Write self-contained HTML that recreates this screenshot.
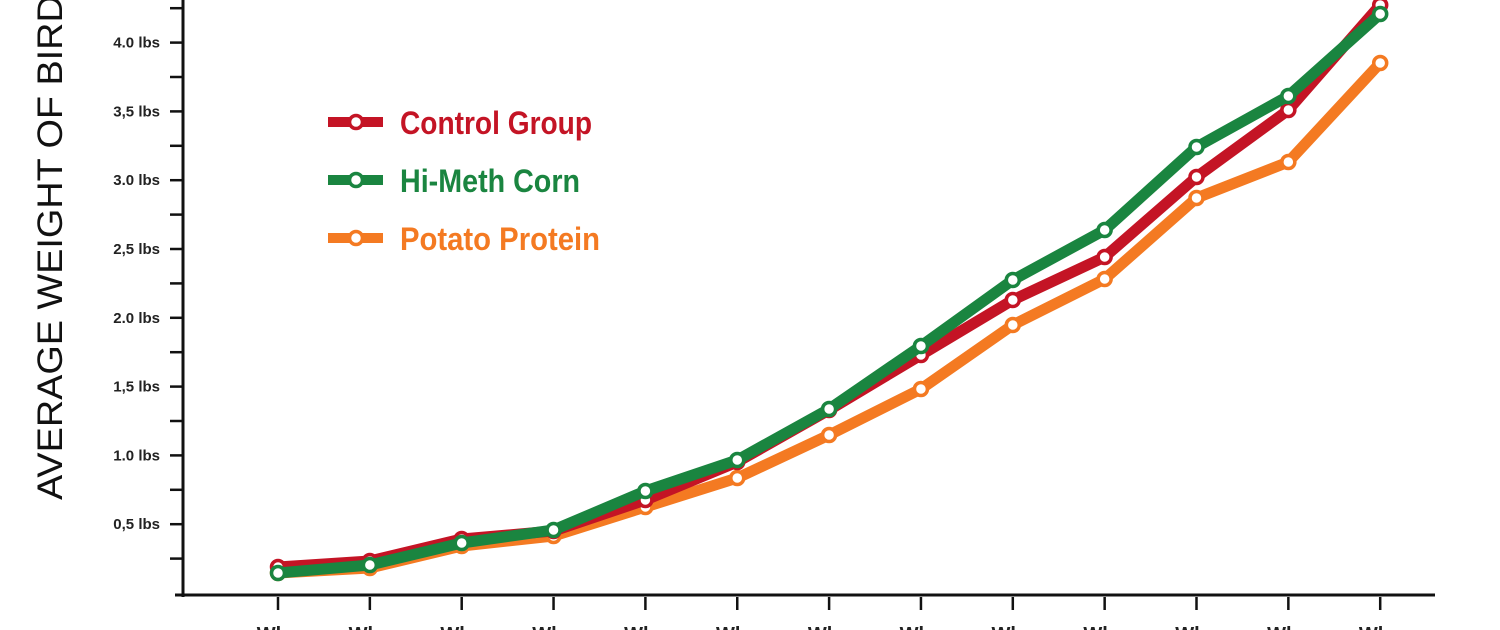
<!DOCTYPE html>
<html><head><meta charset="utf-8"><style>html,body{margin:0;padding:0;background:#fff;width:1500px;height:630px;overflow:hidden}</style></head>
<body>
<svg width="1500" height="630" viewBox="0 0 1500 630" xmlns="http://www.w3.org/2000/svg" font-family="'Liberation Sans Narrow','Liberation Sans',sans-serif">
<rect width="1500" height="630" fill="#fff"/>
<text transform="translate(62,500) rotate(-90)" font-family="'Liberation Sans',sans-serif" font-size="35" fill="#111" textLength="530" lengthAdjust="spacingAndGlyphs">AVERAGE WEIGHT OF BIRDS</text>
<g stroke="#111" stroke-width="3" fill="none">
<line x1="183" y1="0" x2="183" y2="597"/>
<line x1="175" y1="595" x2="1435" y2="595"/>
</g>
<g stroke="#111" stroke-width="2.5" id="yt"></g>
<g id="labels" font-weight="bold" font-size="15" fill="#222"></g>
<g id="series"></g>
<g font-weight="bold" font-size="32">
<line x1="328" y1="122" x2="383" y2="122" stroke="#c41425" stroke-width="10"/><circle cx="356" cy="122" r="6.5" fill="#fff" stroke="#c41425" stroke-width="3.5"/>
<text x="400" y="134" fill="#c41425" textLength="192" lengthAdjust="spacingAndGlyphs">Control Group</text>
<line x1="328" y1="180" x2="383" y2="180" stroke="#1a8540" stroke-width="10"/><circle cx="356" cy="180" r="6.5" fill="#fff" stroke="#1a8540" stroke-width="3.5"/>
<text x="400" y="192" fill="#1a8540" textLength="180" lengthAdjust="spacingAndGlyphs">Hi-Meth Corn</text>
<line x1="328" y1="238" x2="383" y2="238" stroke="#f47a22" stroke-width="10"/><circle cx="356" cy="238" r="6.5" fill="#fff" stroke="#f47a22" stroke-width="3.5"/>
<text x="400" y="250" fill="#f47a22" textLength="200" lengthAdjust="spacingAndGlyphs">Potato Protein</text>
</g>
</svg>
<script>
const ns="http://www.w3.org/2000/svg";
function el(p,t,a,txt){const e=document.createElementNS(ns,t);for(const k in a)e.setAttribute(k,a[k]);if(txt)e.textContent=txt;p.appendChild(e);return e;}
const yt=document.getElementById('yt'),lb=document.getElementById('labels'),sr=document.getElementById('series');
for(let v=0.25;v<=4.5;v+=0.25){const y=593-v*137.6;el(yt,'line',{x1:170,y1:y,x2:183,y2:y});}
const names=['0,5','1,0','1,5','2,0','2,5','3,0','3,5','4,0'];
names.forEach((n,i)=>{const y=593-(i+1)*0.5*137.6;el(lb,'text',{x:160,y:y+5,'text-anchor':'end'},n.replace(',', i%2?'.':',')+' lbs');});
const xs=[];for(let i=0;i<13;i++)xs.push(278+i*91.85);
xs.forEach(x=>{el(yt,'line',{x1:x,y1:597,x2:x,y2:610});el(lb,'text',{x:x,y:641,'text-anchor':'middle','font-size':'20'},'Wk '+'•');});
const data=[
['#f47a22',[573,568,546,536,507,478,435,389,325,279,198,162,63]],
['#c41425',[567,561,539,531,500,462,410,355,300,257,177,110,5]],
['#1a8540',[573,565,543,530,491,460,409,346,280,230,147,96,14]]];
data.forEach(([c,ys])=>{el(sr,'polyline',{points:ys.map((y,i)=>xs[i]+','+y).join(' '),fill:'none',stroke:c,'stroke-width':11,'stroke-linejoin':'round'});
ys.forEach((y,i)=>el(sr,'circle',{cx:xs[i],cy:y,r:6.5,fill:'#fff',stroke:c,'stroke-width':3.5}));});
</script>
</body></html>
